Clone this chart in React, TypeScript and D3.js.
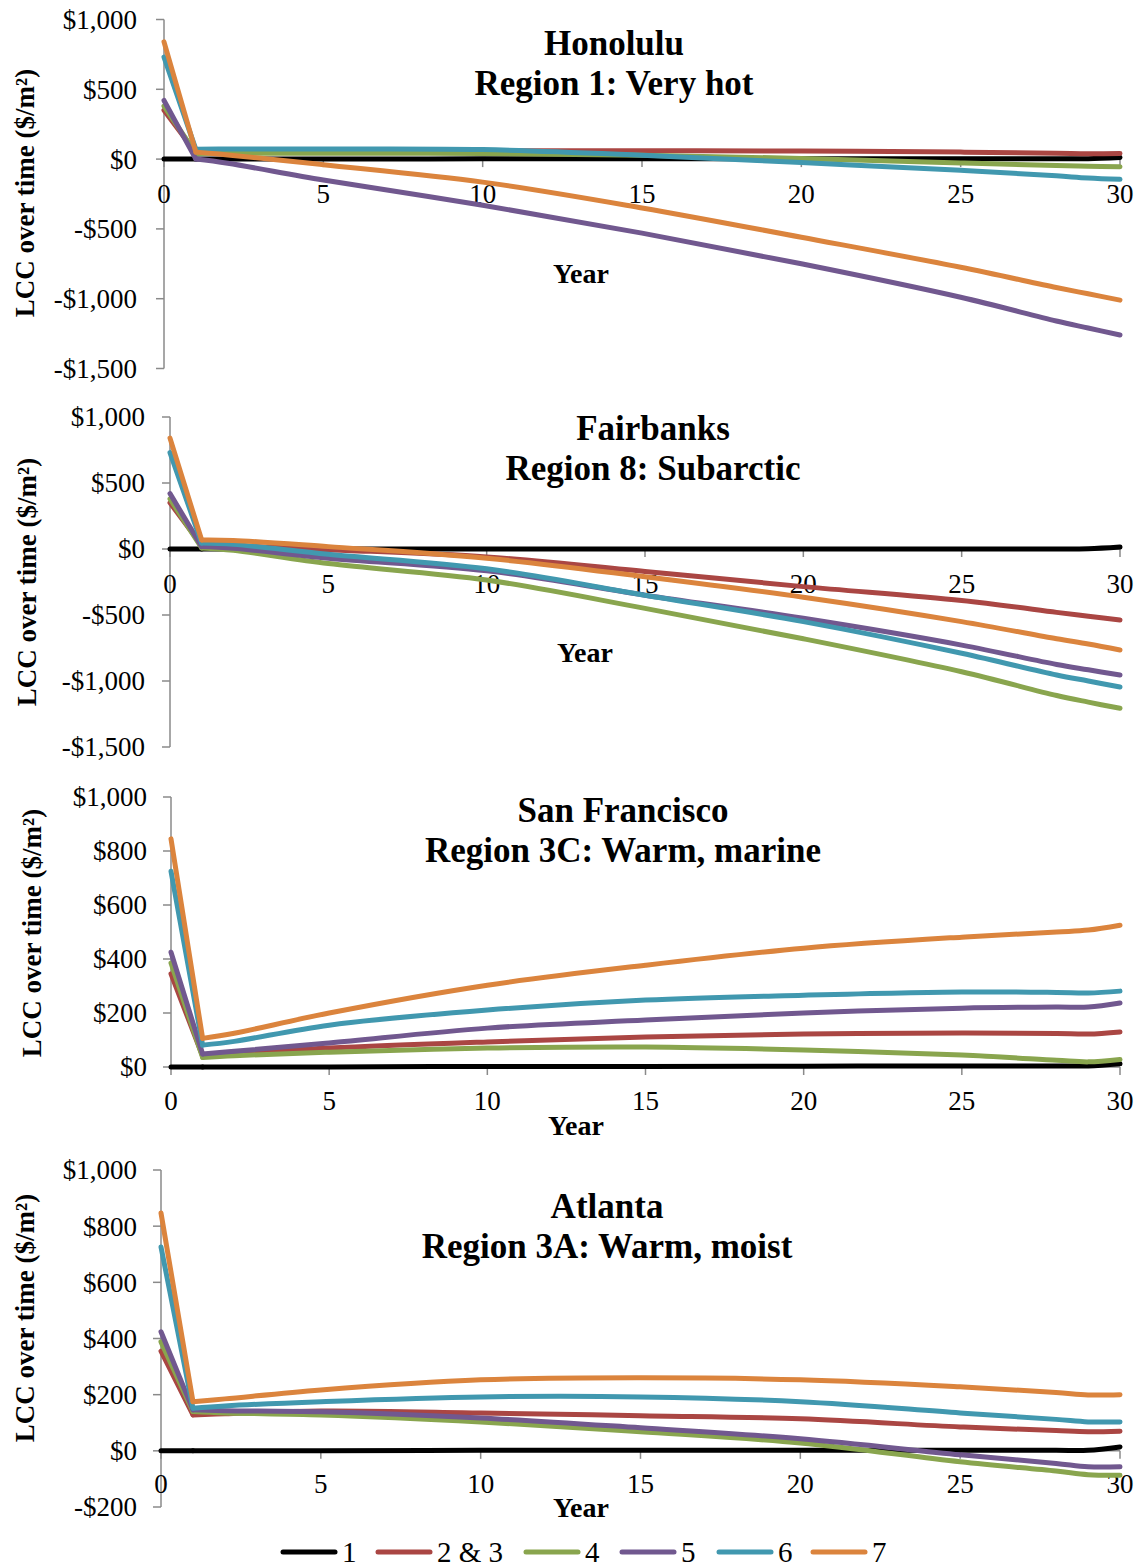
import React from "react";
import * as d3 from "d3";

// ---------- DATA ----------
const YEARS = [0, 1, 2, 5, 10, 15, 20, 25, 28, 29, 30];
const SERIES_LABELS = ["1", "2 & 3", "4", "5", "6", "7"];
const X_TICKS = [0, 5, 10, 15, 20, 25, 30];

const HONOLULU_1 = [0, 0, 0, 0, 2, 2, 2, 3, 3, 3, 12];
const HONOLULU_23 = [350, 45, 50, 55, 60, 60, 58, 50, 42, 38, 40];
const HONOLULU_4 = [380, 40, 42, 42, 40, 28, 5, -28, -45, -52, -55];
const HONOLULU_5 = [420, 0, -30, -150, -330, -530, -750, -990, -1160, -1210, -1260];
const HONOLULU_6 = [730, 70, 72, 72, 68, 28, -25, -80, -120, -135, -145];
const HONOLULU_7 = [840, 50, 30, -40, -165, -350, -560, -775, -920, -965, -1010];

const FAIRBANKS_1 = [0, 0, 0, 0, 0, 0, 0, 0, 0, 2, 15];
const FAIRBANKS_23 = [350, 28, 25, -5, -60, -170, -285, -390, -480, -510, -538];
const FAIRBANKS_4 = [380, 8, -10, -110, -235, -450, -680, -930, -1110, -1160, -1207];
const FAIRBANKS_5 = [420, 18, 5, -70, -165, -350, -525, -728, -875, -915, -955];
const FAIRBANKS_6 = [730, 45, 35, -40, -150, -350, -550, -790, -955, -1000, -1046];
const FAIRBANKS_7 = [840, 68, 65, 18, -70, -210, -365, -550, -680, -720, -765];

const SANFRAN_1 = [0, 0, 0, 0, 2, 2, 3, 4, 4, 4, 12];
const SANFRAN_23 = [345, 40, 48, 70, 93, 111, 122, 126, 124, 122, 130];
const SANFRAN_4 = [385, 35, 42, 55, 70, 74, 63, 44, 25, 19, 28];
const SANFRAN_5 = [425, 48, 58, 89, 144, 174, 200, 218, 222, 222, 237];
const SANFRAN_6 = [725, 81, 95, 155, 211, 248, 266, 278, 276, 274, 281];
const SANFRAN_7 = [845, 106, 125, 200, 303, 377, 440, 481, 500, 507, 525];

const ATLANTA_1 = [0, 0, 0, 0, 2, 2, 2, 2, 2, 2, 14];
const ATLANTA_23 = [355, 128, 132, 142, 135, 125, 114, 85, 72, 68, 70];
const ATLANTA_4 = [388, 140, 135, 128, 103, 68, 28, -39, -72, -85, -87];
const ATLANTA_5 = [424, 146, 143, 139, 117, 82, 43, -14, -45, -57, -57];
const ATLANTA_6 = [726, 152, 160, 175, 192, 192, 175, 135, 112, 103, 103];
const ATLANTA_7 = [847, 175, 185, 217, 253, 260, 253, 228, 208, 199, 200];

const PANEL_TITLES = [
  ["Honolulu", "Region 1: Very hot"],
  ["Fairbanks", "Region 8: Subarctic"],
  ["San Francisco", "Region 3C: Warm, marine"],
  ["Atlanta", "Region 3A: Warm, moist"],
];
const PANEL_SERIES = [
  [HONOLULU_1, HONOLULU_23, HONOLULU_4, HONOLULU_5, HONOLULU_6, HONOLULU_7],
  [FAIRBANKS_1, FAIRBANKS_23, FAIRBANKS_4, FAIRBANKS_5, FAIRBANKS_6, FAIRBANKS_7],
  [SANFRAN_1, SANFRAN_23, SANFRAN_4, SANFRAN_5, SANFRAN_6, SANFRAN_7],
  [ATLANTA_1, ATLANTA_23, ATLANTA_4, ATLANTA_5, ATLANTA_6, ATLANTA_7],
];
const Y_DOMAINS = [
  [-1500, 1000],
  [-1500, 1000],
  [0, 1000],
  [-200, 1000],
];
const Y_STEPS = [500, 500, 200, 200];
const Y_TITLE = "LCC over time ($/m²)";
const X_TITLE = "Year";

// ---------- STYLE / LAYOUT ----------
const COLORS = ["#000000", "#AA4643", "#89A54E", "#71588F", "#4198AF", "#DB843D"];
const AXIS_COLOR = "#8a8a8a";
const FONT = "'Liberation Serif', 'Times New Roman', serif";

const LAYOUT = [
  { left: 164, right: 1120, top: 19.5, bottom: 368.5, labelOff: 27, xLabBase: 203, yTitle: [25, 193], year: [581, 283], title: [614, 55, 95] },
  { left: 170, right: 1120, top: 417, bottom: 747, labelOff: 25, xLabBase: 593, yTitle: [27, 582], year: [585, 662], title: [653, 440, 480] },
  { left: 171, right: 1120, top: 797, bottom: 1067, labelOff: 24, xLabBase: 1110, yTitle: [32, 933], year: [576, 1135], title: [623, 822, 862] },
  { left: 161, right: 1120, top: 1170, bottom: 1507, labelOff: 24, xLabBase: 1493, yTitle: [25, 1318], year: [581, 1517], title: [607, 1218, 1258] },
];
const LEGEND_X = [283, 378, 526, 622, 719, 813];
const LEGEND_Y = 1552;
const LEGEND_LINE = 52;

const fmtMoney = (v: number) => (v < 0 ? "-" : "") + "$" + d3.format(",")(Math.abs(v));

function Panel({ idx }: { idx: number }) {
  const L = LAYOUT[idx];
  const [y0, y1] = Y_DOMAINS[idx];
  const x = d3.scaleLinear().domain([0, 30]).range([L.left, L.right]);
  const y = d3.scaleLinear().domain([y0, y1]).range([L.bottom, L.top]);
  const yTicks = d3.range(y0, y1 + 1, Y_STEPS[idx]);
  const smooth = d3
    .line<[number, number]>()
    .x((d) => x(d[0]))
    .y((d) => y(d[1]))
    .curve(d3.curveCatmullRom.alpha(0.5));
  const straight = d3
    .line<[number, number]>()
    .x((d) => x(d[0]))
    .y((d) => y(d[1]));
  const zeroY = y(0);
  return (
    <g>
      {/* y axis */}
      <line x1={L.left} x2={L.left} y1={L.top} y2={L.bottom} stroke={AXIS_COLOR} strokeWidth={1.5} />
      {yTicks.map((t) => (
        <g key={t}>
          <line x1={L.left - 8} x2={L.left} y1={y(t)} y2={y(t)} stroke={AXIS_COLOR} strokeWidth={1.5} />
          <text
            x={L.left - L.labelOff}
            y={y(t)}
            dy="0.35em"
            textAnchor="end"
            fontFamily={FONT}
            fontSize={27}
            fill="#000"
          >
            {fmtMoney(t)}
          </text>
        </g>
      ))}
      {/* x axis */}
      <line x1={L.left} x2={L.right} y1={zeroY} y2={zeroY} stroke={AXIS_COLOR} strokeWidth={1.5} />
      {X_TICKS.map((t) => (
        <g key={t}>
          <line x1={x(t)} x2={x(t)} y1={zeroY} y2={zeroY + 8} stroke={AXIS_COLOR} strokeWidth={1.5} />
          <text x={x(t)} y={L.xLabBase} textAnchor="middle" fontFamily={FONT} fontSize={27} fill="#000">
            {t}
          </text>
        </g>
      ))}
      {/* series */}
      {PANEL_SERIES[idx].map((vals, si) => {
        const pts = YEARS.map((yr, i) => [yr, vals[i]] as [number, number]);
        return (
          <g key={si}>
            <path
              d={straight(pts.slice(0, 2)) || ""}
              fill="none"
              stroke={COLORS[si]}
              strokeWidth={5}
              strokeLinecap="round"
              strokeLinejoin="round"
            />
            <path
              d={smooth(pts.slice(1)) || ""}
              fill="none"
              stroke={COLORS[si]}
              strokeWidth={5}
              strokeLinecap="round"
              strokeLinejoin="round"
            />
          </g>
        );
      })}
      {/* titles */}
      <text
        transform={`translate(${L.yTitle[0]},${L.yTitle[1]}) rotate(-90)`}
        textAnchor="middle"
        dy="0.35em"
        fontFamily={FONT}
        fontWeight="bold"
        fontSize={27}
      >
        {Y_TITLE}
      </text>
      <text x={L.year[0]} y={L.year[1]} textAnchor="middle" fontFamily={FONT} fontWeight="bold" fontSize={28}>
        {X_TITLE}
      </text>
      <text x={L.title[0]} y={L.title[1]} textAnchor="middle" fontFamily={FONT} fontWeight="bold" fontSize={35}>
        {PANEL_TITLES[idx][0]}
      </text>
      <text x={L.title[0]} y={L.title[2]} textAnchor="middle" fontFamily={FONT} fontWeight="bold" fontSize={35}>
        {PANEL_TITLES[idx][1]}
      </text>
    </g>
  );
}

export default function App() {
  return (
    <svg
      width={1147}
      height={1567}
      style={{ position: "absolute", left: 0, top: 0, background: "#fff" }}
    >
      <rect width={1147} height={1567} fill="#fff" />
      {PANEL_TITLES.map((_, i) => (
        <Panel key={i} idx={i} />
      ))}
      {SERIES_LABELS.map((lab, i) => (
        <g key={lab}>
          <line
            x1={LEGEND_X[i]}
            x2={LEGEND_X[i] + LEGEND_LINE}
            y1={LEGEND_Y}
            y2={LEGEND_Y}
            stroke={COLORS[i]}
            strokeWidth={5}
            strokeLinecap="round"
          />
          <text x={LEGEND_X[i] + LEGEND_LINE + 7} y={LEGEND_Y + 10} fontFamily={FONT} fontSize={29}>
            {lab}
          </text>
        </g>
      ))}
    </svg>
  );
}
